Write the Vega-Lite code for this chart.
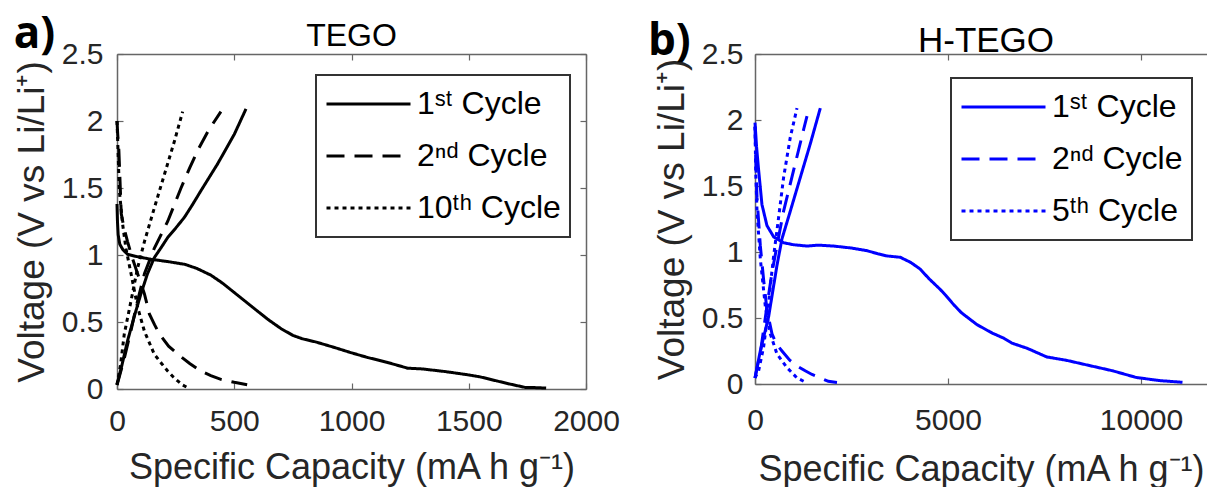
{
  "$schema": "https://vega.github.io/schema/vega-lite/v6.json",
  "background": "white",
  "padding": {"left": 13, "top": 12, "right": 0, "bottom": 0},
  "spacing": 27,
  "resolve": {"scale": {"strokeDash": "independent"}, "legend": {"strokeDash": "independent"}},
  "config": {
    "view": {"stroke": null},
    "axis": {
      "grid": false,
      "labelFlush": false,
      "domainColor": "#666",
      "domainWidth": 1.5,
      "tickColor": "#666",
      "tickSize": -6,
      "tickWidth": 1.2,
      "labelColor": "#262626",
      "labelFont": "Liberation Sans",
      "labelFontSize": 30,
      "titleFont": "Liberation Sans",
      "titleFontSize": 37,
      "titleFontWeight": "normal",
      "titleColor": "#262626"
    },
    "title": {"font": "Liberation Sans", "fontWeight": "normal", "color": "#000", "offset": 0},
    "legend": {
      "strokeColor": "#333",
      "strokeWidth": 2,
      "fillColor": "white",
      "padding": 9,
      "symbolType": "stroke",
      "symbolSize": 7056,
      "symbolStrokeWidth": 3,
      "labelFont": "Liberation Sans",
      "labelFontSize": 32,
      "labelColor": "#000",
      "clipHeight": 40,
      "rowPadding": 12,
      "labelOffset": 5
    }
  },
  "datasets": {
    "tego": [
      {"c":0,"v":1.38,"cy":"1ˢᵗ Cycle","s":"d"},{"c":2,"v":1.25,"cy":"1ˢᵗ Cycle","s":"d"},{"c":5,"v":1.15,"cy":"1ˢᵗ Cycle","s":"d"},{"c":12,"v":1.08,"cy":"1ˢᵗ Cycle","s":"d"},{"c":25,"v":1.04,"cy":"1ˢᵗ Cycle","s":"d"},{"c":45,"v":1.005,"cy":"1ˢᵗ Cycle","s":"d"},{"c":80,"v":0.99,"cy":"1ˢᵗ Cycle","s":"d"},{"c":145,"v":0.968,"cy":"1ˢᵗ Cycle","s":"d"},{"c":220,"v":0.95,"cy":"1ˢᵗ Cycle","s":"d"},{"c":290,"v":0.93,"cy":"1ˢᵗ Cycle","s":"d"},{"c":340,"v":0.9,"cy":"1ˢᵗ Cycle","s":"d"},{"c":400,"v":0.85,"cy":"1ˢᵗ Cycle","s":"d"},{"c":450,"v":0.79,"cy":"1ˢᵗ Cycle","s":"d"},{"c":500,"v":0.72,"cy":"1ˢᵗ Cycle","s":"d"},{"c":550,"v":0.65,"cy":"1ˢᵗ Cycle","s":"d"},{"c":600,"v":0.58,"cy":"1ˢᵗ Cycle","s":"d"},{"c":643,"v":0.52,"cy":"1ˢᵗ Cycle","s":"d"},{"c":700,"v":0.45,"cy":"1ˢᵗ Cycle","s":"d"},{"c":750,"v":0.4,"cy":"1ˢᵗ Cycle","s":"d"},{"c":790,"v":0.375,"cy":"1ˢᵗ Cycle","s":"d"},{"c":850,"v":0.35,"cy":"1ˢᵗ Cycle","s":"d"},{"c":927,"v":0.31,"cy":"1ˢᵗ Cycle","s":"d"},{"c":1000,"v":0.27,"cy":"1ˢᵗ Cycle","s":"d"},{"c":1069,"v":0.235,"cy":"1ˢᵗ Cycle","s":"d"},{"c":1150,"v":0.2,"cy":"1ˢᵗ Cycle","s":"d"},{"c":1240,"v":0.155,"cy":"1ˢᵗ Cycle","s":"d"},{"c":1300,"v":0.15,"cy":"1ˢᵗ Cycle","s":"d"},{"c":1400,"v":0.13,"cy":"1ˢᵗ Cycle","s":"d"},{"c":1500,"v":0.105,"cy":"1ˢᵗ Cycle","s":"d"},{"c":1550,"v":0.09,"cy":"1ˢᵗ Cycle","s":"d"},{"c":1620,"v":0.06,"cy":"1ˢᵗ Cycle","s":"d"},{"c":1680,"v":0.035,"cy":"1ˢᵗ Cycle","s":"d"},{"c":1740,"v":0.012,"cy":"1ˢᵗ Cycle","s":"d"},{"c":1790,"v":0.01,"cy":"1ˢᵗ Cycle","s":"d"},{"c":1830,"v":0.007,"cy":"1ˢᵗ Cycle","s":"d"},
      {"c":0,"v":0.035,"cy":"1ˢᵗ Cycle","s":"c"},{"c":20,"v":0.17,"cy":"1ˢᵗ Cycle","s":"c"},{"c":45,"v":0.36,"cy":"1ˢᵗ Cycle","s":"c"},{"c":75,"v":0.55,"cy":"1ˢᵗ Cycle","s":"c"},{"c":102,"v":0.71,"cy":"1ˢᵗ Cycle","s":"c"},{"c":130,"v":0.86,"cy":"1ˢᵗ Cycle","s":"c"},{"c":159,"v":0.98,"cy":"1ˢᵗ Cycle","s":"c"},{"c":190,"v":1.06,"cy":"1ˢᵗ Cycle","s":"c"},{"c":216,"v":1.13,"cy":"1ˢᵗ Cycle","s":"c"},{"c":250,"v":1.2,"cy":"1ˢᵗ Cycle","s":"c"},{"c":287,"v":1.28,"cy":"1ˢᵗ Cycle","s":"c"},{"c":320,"v":1.37,"cy":"1ˢᵗ Cycle","s":"c"},{"c":358,"v":1.48,"cy":"1ˢᵗ Cycle","s":"c"},{"c":429,"v":1.68,"cy":"1ˢᵗ Cycle","s":"c"},{"c":500,"v":1.9,"cy":"1ˢᵗ Cycle","s":"c"},{"c":550,"v":2.09,"cy":"1ˢᵗ Cycle","s":"c"},
      {"c":0,"v":2.0,"cy":"2ⁿᵈ Cycle","s":"d"},{"c":3,"v":1.9,"cy":"2ⁿᵈ Cycle","s":"d"},{"c":8,"v":1.78,"cy":"2ⁿᵈ Cycle","s":"d"},{"c":14,"v":1.5,"cy":"2ⁿᵈ Cycle","s":"d"},{"c":18,"v":1.31,"cy":"2ⁿᵈ Cycle","s":"d"},{"c":30,"v":1.2,"cy":"2ⁿᵈ Cycle","s":"d"},{"c":45,"v":1.1,"cy":"2ⁿᵈ Cycle","s":"d"},{"c":65,"v":0.98,"cy":"2ⁿᵈ Cycle","s":"d"},{"c":88,"v":0.86,"cy":"2ⁿᵈ Cycle","s":"d"},{"c":117,"v":0.71,"cy":"2ⁿᵈ Cycle","s":"d"},{"c":138,"v":0.56,"cy":"2ⁿᵈ Cycle","s":"d"},{"c":160,"v":0.48,"cy":"2ⁿᵈ Cycle","s":"d"},{"c":181,"v":0.41,"cy":"2ⁿᵈ Cycle","s":"d"},{"c":220,"v":0.32,"cy":"2ⁿᵈ Cycle","s":"d"},{"c":259,"v":0.26,"cy":"2ⁿᵈ Cycle","s":"d"},{"c":310,"v":0.19,"cy":"2ⁿᵈ Cycle","s":"d"},{"c":358,"v":0.134,"cy":"2ⁿᵈ Cycle","s":"d"},{"c":400,"v":0.1,"cy":"2ⁿᵈ Cycle","s":"d"},{"c":443,"v":0.072,"cy":"2ⁿᵈ Cycle","s":"d"},{"c":500,"v":0.05,"cy":"2ⁿᵈ Cycle","s":"d"},{"c":555,"v":0.032,"cy":"2ⁿᵈ Cycle","s":"d"},
      {"c":0,"v":0.03,"cy":"2ⁿᵈ Cycle","s":"c"},{"c":30,"v":0.22,"cy":"2ⁿᵈ Cycle","s":"c"},{"c":60,"v":0.44,"cy":"2ⁿᵈ Cycle","s":"c"},{"c":88,"v":0.66,"cy":"2ⁿᵈ Cycle","s":"c"},{"c":117,"v":0.86,"cy":"2ⁿᵈ Cycle","s":"c"},{"c":159,"v":1.05,"cy":"2ⁿᵈ Cycle","s":"c"},{"c":216,"v":1.25,"cy":"2ⁿᵈ Cycle","s":"c"},{"c":273,"v":1.5,"cy":"2ⁿᵈ Cycle","s":"c"},{"c":310,"v":1.65,"cy":"2ⁿᵈ Cycle","s":"c"},{"c":344,"v":1.78,"cy":"2ⁿᵈ Cycle","s":"c"},{"c":390,"v":1.93,"cy":"2ⁿᵈ Cycle","s":"c"},{"c":443,"v":2.07,"cy":"2ⁿᵈ Cycle","s":"c"},
      {"c":0,"v":2.0,"cy":"10ᵗʰ Cycle","s":"d"},{"c":4,"v":1.8,"cy":"10ᵗʰ Cycle","s":"d"},{"c":10,"v":1.48,"cy":"10ᵗʰ Cycle","s":"d"},{"c":24,"v":1.23,"cy":"10ᵗʰ Cycle","s":"d"},{"c":38,"v":1.05,"cy":"10ᵗʰ Cycle","s":"d"},{"c":60,"v":0.86,"cy":"10ᵗʰ Cycle","s":"d"},{"c":88,"v":0.61,"cy":"10ᵗʰ Cycle","s":"d"},{"c":117,"v":0.43,"cy":"10ᵗʰ Cycle","s":"d"},{"c":159,"v":0.26,"cy":"10ᵗʰ Cycle","s":"d"},{"c":190,"v":0.19,"cy":"10ᵗʰ Cycle","s":"d"},{"c":216,"v":0.134,"cy":"10ᵗʰ Cycle","s":"d"},{"c":240,"v":0.09,"cy":"10ᵗʰ Cycle","s":"d"},{"c":259,"v":0.06,"cy":"10ᵗʰ Cycle","s":"d"},{"c":280,"v":0.03,"cy":"10ᵗʰ Cycle","s":"d"},{"c":301,"v":0.01,"cy":"10ᵗʰ Cycle","s":"d"},
      {"c":0,"v":0.03,"cy":"10ᵗʰ Cycle","s":"c"},{"c":15,"v":0.18,"cy":"10ᵗʰ Cycle","s":"c"},{"c":31,"v":0.41,"cy":"10ᵗʰ Cycle","s":"c"},{"c":45,"v":0.53,"cy":"10ᵗʰ Cycle","s":"c"},{"c":60,"v":0.66,"cy":"10ᵗʰ Cycle","s":"c"},{"c":88,"v":0.905,"cy":"10ᵗʰ Cycle","s":"c"},{"c":117,"v":1.1,"cy":"10ᵗʰ Cycle","s":"c"},{"c":159,"v":1.35,"cy":"10ᵗʰ Cycle","s":"c"},{"c":202,"v":1.6,"cy":"10ᵗʰ Cycle","s":"c"},{"c":245,"v":1.85,"cy":"10ᵗʰ Cycle","s":"c"},{"c":280,"v":2.07,"cy":"10ᵗʰ Cycle","s":"c"}
    ],
    "htego": [
      {"c":0,"v":1.98,"cy":"1ˢᵗ Cycle","s":"d"},{"c":40,"v":1.8,"cy":"1ˢᵗ Cycle","s":"d"},{"c":94,"v":1.62,"cy":"1ˢᵗ Cycle","s":"d"},{"c":180,"v":1.36,"cy":"1ˢᵗ Cycle","s":"d"},{"c":310,"v":1.2,"cy":"1ˢᵗ Cycle","s":"d"},{"c":483,"v":1.115,"cy":"1ˢᵗ Cycle","s":"d"},{"c":741,"v":1.07,"cy":"1ˢᵗ Cycle","s":"d"},{"c":1000,"v":1.055,"cy":"1ˢᵗ Cycle","s":"d"},{"c":1347,"v":1.045,"cy":"1ˢᵗ Cycle","s":"d"},{"c":1628,"v":1.052,"cy":"1ˢᵗ Cycle","s":"d"},{"c":2037,"v":1.045,"cy":"1ˢᵗ Cycle","s":"d"},{"c":2500,"v":1.03,"cy":"1ˢᵗ Cycle","s":"d"},{"c":2902,"v":1.01,"cy":"1ˢᵗ Cycle","s":"d"},{"c":3200,"v":0.985,"cy":"1ˢᵗ Cycle","s":"d"},{"c":3420,"v":0.97,"cy":"1ˢᵗ Cycle","s":"d"},{"c":3764,"v":0.96,"cy":"1ˢᵗ Cycle","s":"d"},{"c":4040,"v":0.92,"cy":"1ˢᵗ Cycle","s":"d"},{"c":4282,"v":0.87,"cy":"1ˢᵗ Cycle","s":"d"},{"c":4500,"v":0.8,"cy":"1ˢᵗ Cycle","s":"d"},{"c":4800,"v":0.716,"cy":"1ˢᵗ Cycle","s":"d"},{"c":4945,"v":0.67,"cy":"1ˢᵗ Cycle","s":"d"},{"c":5150,"v":0.6,"cy":"1ˢᵗ Cycle","s":"d"},{"c":5347,"v":0.54,"cy":"1ˢᵗ Cycle","s":"d"},{"c":5749,"v":0.45,"cy":"1ˢᵗ Cycle","s":"d"},{"c":6151,"v":0.385,"cy":"1ˢᵗ Cycle","s":"d"},{"c":6452,"v":0.346,"cy":"1ˢᵗ Cycle","s":"d"},{"c":6653,"v":0.31,"cy":"1ˢᵗ Cycle","s":"d"},{"c":7055,"v":0.27,"cy":"1ˢᵗ Cycle","s":"d"},{"c":7558,"v":0.205,"cy":"1ˢᵗ Cycle","s":"d"},{"c":8060,"v":0.18,"cy":"1ˢᵗ Cycle","s":"d"},{"c":8663,"v":0.14,"cy":"1ˢᵗ Cycle","s":"d"},{"c":9266,"v":0.1,"cy":"1ˢᵗ Cycle","s":"d"},{"c":9869,"v":0.05,"cy":"1ˢᵗ Cycle","s":"d"},{"c":10472,"v":0.026,"cy":"1ˢᵗ Cycle","s":"d"},{"c":11075,"v":0.013,"cy":"1ˢᵗ Cycle","s":"d"},
      {"c":0,"v":0.046,"cy":"1ˢᵗ Cycle","s":"c"},{"c":137,"v":0.25,"cy":"1ˢᵗ Cycle","s":"c"},{"c":353,"v":0.51,"cy":"1ˢᵗ Cycle","s":"c"},{"c":570,"v":0.9,"cy":"1ˢᵗ Cycle","s":"c"},{"c":699,"v":1.1,"cy":"1ˢᵗ Cycle","s":"c"},{"c":915,"v":1.31,"cy":"1ˢᵗ Cycle","s":"c"},{"c":1174,"v":1.565,"cy":"1ˢᵗ Cycle","s":"c"},{"c":1433,"v":1.82,"cy":"1ˢᵗ Cycle","s":"c"},{"c":1692,"v":2.09,"cy":"1ˢᵗ Cycle","s":"c"},
      {"c":0,"v":1.95,"cy":"2ⁿᵈ Cycle","s":"d"},{"c":20,"v":1.7,"cy":"2ⁿᵈ Cycle","s":"d"},{"c":52,"v":1.41,"cy":"2ⁿᵈ Cycle","s":"d"},{"c":137,"v":1.05,"cy":"2ⁿᵈ Cycle","s":"d"},{"c":223,"v":0.79,"cy":"2ⁿᵈ Cycle","s":"d"},{"c":310,"v":0.56,"cy":"2ⁿᵈ Cycle","s":"d"},{"c":440,"v":0.38,"cy":"2ⁿᵈ Cycle","s":"d"},{"c":560,"v":0.3,"cy":"2ⁿᵈ Cycle","s":"d"},{"c":699,"v":0.25,"cy":"2ⁿᵈ Cycle","s":"d"},{"c":900,"v":0.18,"cy":"2ⁿᵈ Cycle","s":"d"},{"c":1088,"v":0.137,"cy":"2ⁿᵈ Cycle","s":"d"},{"c":1300,"v":0.1,"cy":"2ⁿᵈ Cycle","s":"d"},{"c":1477,"v":0.072,"cy":"2ⁿᵈ Cycle","s":"d"},{"c":1700,"v":0.045,"cy":"2ⁿᵈ Cycle","s":"d"},{"c":1900,"v":0.02,"cy":"2ⁿᵈ Cycle","s":"d"},{"c":2124,"v":0.012,"cy":"2ⁿᵈ Cycle","s":"d"},
      {"c":0,"v":0.046,"cy":"2ⁿᵈ Cycle","s":"c"},{"c":150,"v":0.26,"cy":"2ⁿᵈ Cycle","s":"c"},{"c":310,"v":0.59,"cy":"2ⁿᵈ Cycle","s":"c"},{"c":440,"v":0.845,"cy":"2ⁿᵈ Cycle","s":"c"},{"c":570,"v":1.05,"cy":"2ⁿᵈ Cycle","s":"c"},{"c":741,"v":1.31,"cy":"2ⁿᵈ Cycle","s":"c"},{"c":1001,"v":1.62,"cy":"2ⁿᵈ Cycle","s":"c"},{"c":1261,"v":1.93,"cy":"2ⁿᵈ Cycle","s":"c"},{"c":1347,"v":2.03,"cy":"2ⁿᵈ Cycle","s":"c"},
      {"c":0,"v":1.95,"cy":"5ᵗʰ Cycle","s":"d"},{"c":20,"v":1.6,"cy":"5ᵗʰ Cycle","s":"d"},{"c":52,"v":1.31,"cy":"5ᵗʰ Cycle","s":"d"},{"c":137,"v":0.95,"cy":"5ᵗʰ Cycle","s":"d"},{"c":267,"v":0.59,"cy":"5ᵗʰ Cycle","s":"d"},{"c":396,"v":0.38,"cy":"5ᵗʰ Cycle","s":"d"},{"c":570,"v":0.227,"cy":"5ᵗʰ Cycle","s":"d"},{"c":829,"v":0.124,"cy":"5ᵗʰ Cycle","s":"d"},{"c":1088,"v":0.046,"cy":"5ᵗʰ Cycle","s":"d"},{"c":1347,"v":0.008,"cy":"5ᵗʰ Cycle","s":"d"},
      {"c":0,"v":0.046,"cy":"5ᵗʰ Cycle","s":"c"},{"c":94,"v":0.1,"cy":"5ᵗʰ Cycle","s":"c"},{"c":223,"v":0.28,"cy":"5ᵗʰ Cycle","s":"c"},{"c":310,"v":0.48,"cy":"5ᵗʰ Cycle","s":"c"},{"c":396,"v":0.74,"cy":"5ᵗʰ Cycle","s":"c"},{"c":483,"v":0.97,"cy":"5ᵗʰ Cycle","s":"c"},{"c":611,"v":1.26,"cy":"5ᵗʰ Cycle","s":"c"},{"c":741,"v":1.565,"cy":"5ᵗʰ Cycle","s":"c"},{"c":915,"v":1.87,"cy":"5ᵗʰ Cycle","s":"c"},{"c":1088,"v":2.09,"cy":"5ᵗʰ Cycle","s":"c"}
    ]
  },
  "hconcat": [
    {
      "width": 469,
      "height": 335,
      "title": {"text": "TEGO", "fontSize": 32, "dy": 44},
      "layer": [
        {
          "data": {"name": "tego"},
          "mark": {"type": "line", "strokeWidth": 3, "color": "#000"},
          "encoding": {
            "x": {"field": "c", "type": "quantitative", "scale": {"domain": [0, 2000], "nice": false},
                  "axis": {"orient": "bottom", "values": [0, 500, 1000, 1500, 2000], "format": "d", "labelPadding": 23, "titlePadding": 14, "titleFontSize": 36, "title": "Specific Capacity (mA h g⁻¹)"}},
            "y": {"field": "v", "type": "quantitative", "scale": {"domain": [0, 2.5], "nice": false},
                  "axis": {"orient": "left", "values": [0, 0.5, 1, 1.5, 2, 2.5], "format": "~g", "labelPadding": 20, "titlePadding": 10, "title": "Voltage (V vs Li/Li⁺)"}},
            "strokeDash": {"field": "cy", "type": "nominal",
                  "scale": {"domain": ["1ˢᵗ Cycle", "2ⁿᵈ Cycle", "10ᵗʰ Cycle"], "range": [[1, 0], [18, 10], [4, 4]]},
                  "legend": {"title": null, "orient": "none", "legendX": 199, "legendY": 21, "symbolStrokeColor": "#000"}},
            "detail": {"field": "s", "type": "nominal"}
          }
        },
        {
          "data": {"values": [{}]},
          "mark": {"type": "text", "text": "a)", "font": "Open Sans", "fontWeight": "bold", "fontSize": 44, "align": "center", "baseline": "middle", "color": "#000"},
          "encoding": {
            "x": {"datum": -352, "type": "quantitative", "scale": {"domain": [0, 2000], "nice": false},
                  "axis": {"orient": "top", "values": [0, 500, 1000, 1500, 2000], "labels": false, "title": null}},
            "y": {"datum": 2.642, "type": "quantitative", "scale": {"domain": [0, 2.5], "nice": false},
                  "axis": {"orient": "right", "values": [0, 0.5, 1, 1.5, 2, 2.5], "labels": false, "title": null}}
          }
        }
      ]
    },
    {
      "width": 452,
      "height": 330,
      "title": {"text": "H-TEGO", "fontSize": 35, "dx": 5, "dy": 43},
      "layer": [
        {
          "data": {"name": "htego"},
          "mark": {"type": "line", "strokeWidth": 3, "color": "#0000ff"},
          "encoding": {
            "x": {"field": "c", "type": "quantitative", "scale": {"domain": [0, 11710], "nice": false},
                  "axis": {"orient": "bottom", "values": [0, 5000, 10000], "format": "d", "labelPadding": 27, "titlePadding": 17, "titleFontSize": 36, "title": "Specific Capacity (mA h g⁻¹)"}},
            "y": {"field": "v", "type": "quantitative", "scale": {"domain": [0, 2.5], "nice": false},
                  "axis": {"orient": "left", "values": [0, 0.5, 1, 1.5, 2, 2.5], "format": "~g", "labelPadding": 18, "titlePadding": 10, "title": "Voltage (V vs Li/Li⁺)"}},
            "strokeDash": {"field": "cy", "type": "nominal",
                  "scale": {"domain": ["1ˢᵗ Cycle", "2ⁿᵈ Cycle", "5ᵗʰ Cycle"], "range": [[1, 0], [18, 10], [4, 4]]},
                  "legend": {"title": null, "orient": "none", "legendX": 196, "legendY": 24, "symbolStrokeColor": "#0000ff"}},
            "detail": {"field": "s", "type": "nominal"}
          }
        },
        {
          "data": {"values": [{}]},
          "mark": {"type": "text", "text": "b)", "font": "Open Sans", "fontWeight": "bold", "fontSize": 44, "align": "center", "baseline": "middle", "color": "#000"},
          "encoding": {
            "x": {"datum": -2220, "type": "quantitative", "scale": {"domain": [0, 11710], "nice": false},
                  "axis": {"orient": "top", "values": [0, 5000, 10000], "labels": false, "title": null}},
            "y": {"datum": 2.59, "type": "quantitative", "scale": {"domain": [0, 2.5], "nice": false},
                  "axis": {"orient": "left", "values": [0, 0.5, 1, 1.5, 2, 2.5], "format": "~g", "labelPadding": 18, "titlePadding": 10, "title": "Voltage (V vs Li/Li⁺)"}}
          }
        }
      ]
    }
  ]
}
